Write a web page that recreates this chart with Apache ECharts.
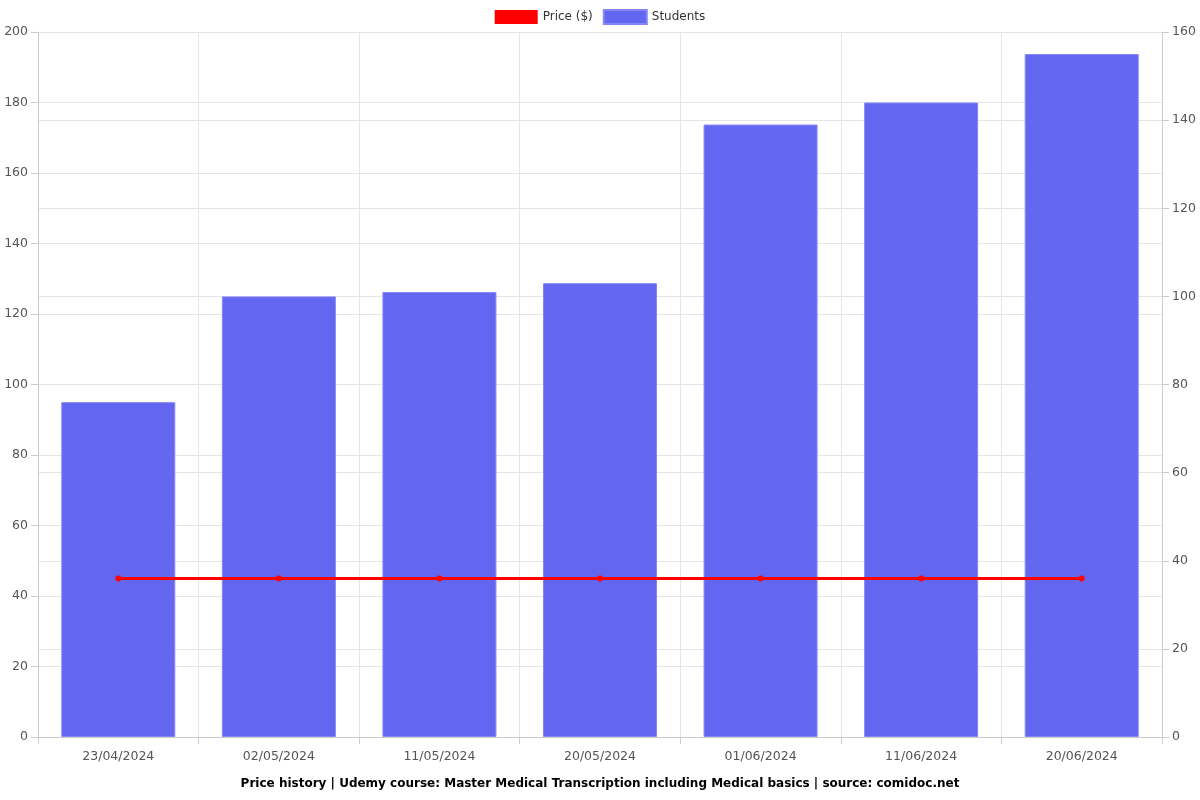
<!DOCTYPE html>
<html><head><meta charset="utf-8">
<script src="https://cdn.jsdelivr.net/npm/echarts@6/dist/echarts.min.js"></script>
<style>html,body{margin:0;padding:0;background:#fff}#c{width:1200px;height:800px}</style>
</head><body><div id="c"></div>
<script>
const categories = ["23/04/2024","02/05/2024","11/05/2024","20/05/2024","01/06/2024","11/06/2024","20/06/2024"];
const priceValues = [45, 45, 45, 45, 45, 45, 45];
const studentValues = [76, 100, 101, 103, 139, 144, 155];
const titleText = "Price history | Udemy course: Master Medical Transcription including Medical basics | source: comidoc.net";

const font = "DejaVu Sans";
const chart = echarts.init(document.getElementById('c'), null, {renderer: 'canvas'});
chart.setOption({
  animation: false,
  textStyle: {fontFamily: font},
  title: {text: titleText, left: 'center', bottom: 5,
    textStyle: {fontFamily: font, fontSize: 12, fontWeight: 'bold', color: '#000'}},
  legend: {top: 4, left: 'center', itemWidth: 43, itemHeight: 14, itemGap: 10,
    textStyle: {fontFamily: font, fontSize: 12, color: '#333'},
    data: [{name: 'Price ($)', icon: 'rect'}, {name: 'Students', icon: 'rect'}]},
  grid: {left: 38, right: 38, top: 32, bottom: 63, containLabel: false},
  xAxis: {type: 'category', data: categories, boundaryGap: true,
    axisLine: {lineStyle: {color: '#ccc'}},
    axisTick: {show: true, length: 7, lineStyle: {color: '#ccc'}},
    axisLabel: {color: '#555', fontSize: 12.5, margin: 13, fontFamily: font},
    splitLine: {show: true, lineStyle: {color: '#e5e5e5'}}},
  yAxis: [
    {type: 'value', min: 0, max: 200, interval: 20, position: 'left',
      axisLine: {show: true, lineStyle: {color: '#ccc'}},
      axisTick: {show: true, length: 7, lineStyle: {color: '#ccc'}},
      axisLabel: {color: '#555', fontSize: 12.5, margin: 10, fontFamily: font},
      splitLine: {show: true, lineStyle: {color: '#e5e5e5'}}},
    {type: 'value', min: 0, max: 160, interval: 20, position: 'right',
      axisLine: {show: true, lineStyle: {color: '#ccc'}},
      axisTick: {show: true, length: 7, lineStyle: {color: '#ccc'}},
      axisLabel: {color: '#555', fontSize: 12.5, margin: 10, fontFamily: font},
      splitLine: {show: true, lineStyle: {color: '#e5e5e5'}}}
  ],
  series: [
    {name: 'Price ($)', type: 'line', yAxisIndex: 0, data: priceValues, z: 3,
      itemStyle: {color: '#ff0000'}, lineStyle: {color: '#ff0000', width: 3},
      symbol: 'circle', symbolSize: 6, showSymbol: true},
    {name: 'Students', type: 'bar', yAxisIndex: 1, data: studentValues, barWidth: '71%',
      itemStyle: {color: '#6366f1', borderColor: '#8587f5', borderWidth: 1}}
  ]
});
</script></body></html>
